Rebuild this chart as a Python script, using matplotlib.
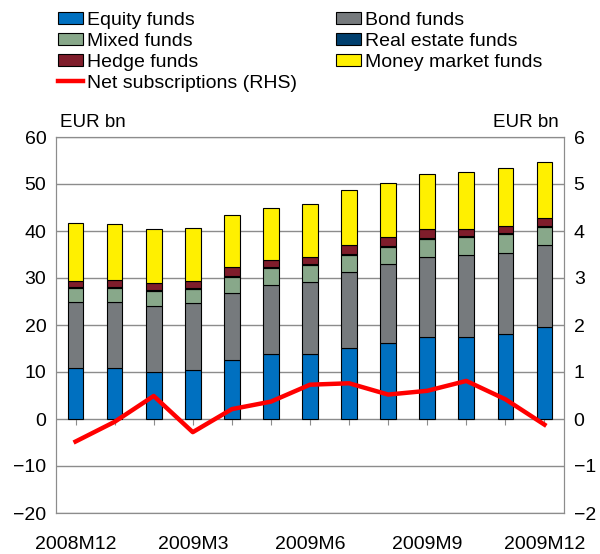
import numpy as np
import matplotlib.pyplot as plt
from matplotlib.patches import Patch
from matplotlib.lines import Line2D

plt.rcParams['font.family'] = ['Liberation Sans', 'DejaVu Sans']

months = ['2008M12', '2009M1', '2009M2', '2009M3', '2009M4', '2009M5', '2009M6',
          '2009M7', '2009M8', '2009M9', '2009M10', '2009M11', '2009M12']

# EUR bn, stacked in this order
equity = [10.9, 10.9, 10.1, 10.5, 12.5, 13.8, 13.9, 15.2, 16.2, 17.5, 17.5, 18.1, 19.6]
bond = [14.0, 14.0, 14.0, 14.1, 14.3, 14.8, 15.2, 16.1, 16.7, 16.9, 17.4, 17.3, 17.4]
mixed = [2.9, 2.9, 3.1, 3.0, 3.5, 3.5, 3.6, 3.7, 3.8, 3.9, 3.8, 3.9, 3.9]
real_estate = [0.2, 0.2, 0.2, 0.2, 0.2, 0.2, 0.2, 0.2, 0.2, 0.2, 0.2, 0.2, 0.2]
hedge = [1.4, 1.6, 1.5, 1.6, 1.9, 1.6, 1.6, 1.8, 1.8, 1.9, 1.5, 1.6, 1.7]
money = [12.2, 11.8, 11.5, 11.3, 11.0, 10.9, 11.3, 11.7, 11.6, 11.7, 12.2, 12.2, 11.8]

# right-hand scale
net_subs = [-0.48, -0.06, 0.49, -0.28, 0.21, 0.37, 0.73, 0.76, 0.52, 0.60, 0.81, 0.42, -0.12]

series = [
    ('Equity funds', equity, '#0070c0'),
    ('Bond funds', bond, '#767a7d'),
    ('Mixed funds', mixed, '#88a88a'),
    ('Real estate funds', real_estate, '#003f6e'),
    ('Hedge funds', hedge, '#7f1d2b'),
    ('Money market funds', money, '#fff000'),
]

fs = 14

fig = plt.figure(figsize=(6, 5.54), dpi=100)
ax = fig.add_axes([56 / 600, 41 / 554, 508 / 600, 376 / 554])

x = np.arange(len(months))
bottom = np.zeros(len(months))
for name, vals, col in series:
    ax.bar(x, vals, 0.4, bottom=bottom, color=col, edgecolor='black', linewidth=0.8, zorder=3)
    bottom += np.array(vals)

ax.set_xlim(-0.5, len(months) - 0.5)
ax.set_ylim(-20, 60)
ax.set_yticks(range(-20, 61, 10))
ax.grid(axis='y', color='#8c8c8c', linewidth=1, zorder=0)
for s in ax.spines.values():
    s.set_color('#8c8c8c')
ax.tick_params(axis='y', length=0, labelsize=fs, pad=7)
ax.set_xticks(x[::3])
ax.set_xticklabels(months[::3])
ax.tick_params(axis='x', length=0, labelsize=fs, pad=16.5)

# small ticks on the zero line
sec = ax.secondary_xaxis(0.25)
sec.set_xticks(x)
sec.set_xticklabels([])
sec.tick_params(length=4, color='#8c8c8c')
sec.spines['bottom'].set_visible(False)

ax2 = ax.twinx()
ax2.plot(x, net_subs, color='#ff0000', linewidth=3.2, zorder=5)
ax2.set_ylim(-2, 6)
ax2.set_yticks(range(-2, 7))
ax2.tick_params(axis='y', length=0, labelsize=fs, pad=7)
for s in ax2.spines.values():
    s.set_color('#8c8c8c')

ax.text(0.008, 1.015, 'EUR bn', transform=ax.transAxes, fontsize=13.5, ha='left', va='bottom')
ax.text(0.99, 1.015, 'EUR bn', transform=ax.transAxes, fontsize=13.5, ha='right', va='bottom')

handles = {name: Patch(facecolor=col, edgecolor='black', linewidth=0.8) for name, _, col in series}
handles['Net subscriptions (RHS)'] = Line2D([], [], color='#ff0000', linewidth=3.2)
order = ['Equity funds', 'Mixed funds', 'Hedge funds', 'Net subscriptions (RHS)',
         'Bond funds', 'Real estate funds', 'Money market funds']
fig.legend([handles[n] for n in order], order, ncol=2, loc='upper left',
           bbox_to_anchor=(58 / 600, 1 - 12 / 554), frameon=False, fontsize=fs,
           handlelength=1.3, handleheight=0.6, handletextpad=0.2,
           labelspacing=0.2, columnspacing=2.0, borderpad=0, borderaxespad=0)

fig.savefig('out.png', dpi=100)
